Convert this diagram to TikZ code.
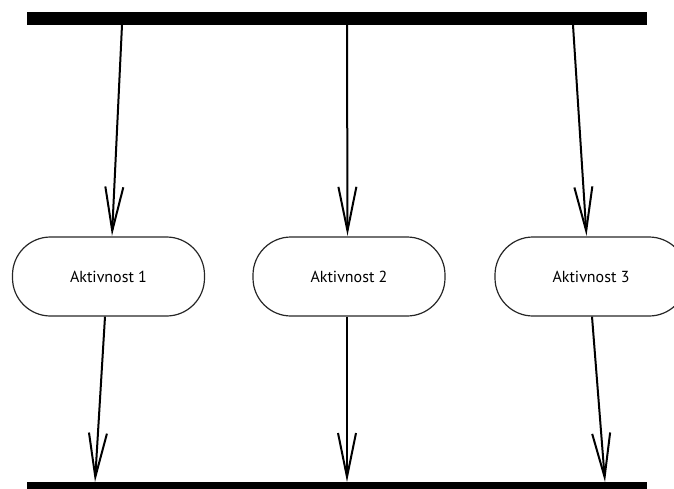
\documentclass[tikz,border=0pt]{standalone}
\usepackage{fontspec}
\setmainfont{PT Sans}
\usetikzlibrary{arrows.meta}
\begin{document}
\begin{tikzpicture}[x=1pt,y=-1pt,
  bar/.style={fill=black,draw=none,rectangle,minimum width=620pt,minimum height=13pt,inner sep=0pt},
  activity/.style={draw=black!85,line width=1.2pt,rectangle,rounded corners=38pt,
    minimum width=192pt,minimum height=79pt,inner sep=0pt,font=\fontsize{16}{18}\selectfont},
  flow/.style={line width=2pt,-{Straight Barb[length=44pt,width=18pt,line width=2pt]}}]
  \useasboundingbox (0,0) rectangle (674,488);
  \clip (0,0) rectangle (674,488);
  % fork and join bars
  \node[bar] (fork) at (337,18.5) {};
  \node[bar] (join) at (337,488.5) {};
  % activities
  \node[activity] (a1) at (108.5,276.5) {Aktivnost 1};
  \node[activity] (a2) at (349,276.5) {Aktivnost 2};
  \node[activity] (a3) at (591,276.5) {Aktivnost 3};
  % attachment points on the bars
  \coordinate (f1) at (122,25);
  \coordinate (f2) at (347,25);
  \coordinate (f3) at (573,25);
  \coordinate (j1) at (95,482);
  \coordinate (j2) at (347,482);
  \coordinate (j3) at (605,482);
  % incoming flows
  \draw[flow] (f1) -- ([xshift=3.5pt,yshift=0.6pt]a1.north);
  \draw[flow] (f2) -- ([xshift=-1.5pt,yshift=0.6pt]a2.north);
  \draw[flow] (f3) -- ([xshift=-4.5pt,yshift=0.6pt]a3.north);
  % outgoing flows
  \draw[flow] ([xshift=-3.5pt]a1.south) -- (j1);
  \draw[flow] ([xshift=-2pt]a2.south) -- (j2);
  \draw[flow] ([xshift=1pt]a3.south) -- (j3);
\end{tikzpicture}
\end{document}
